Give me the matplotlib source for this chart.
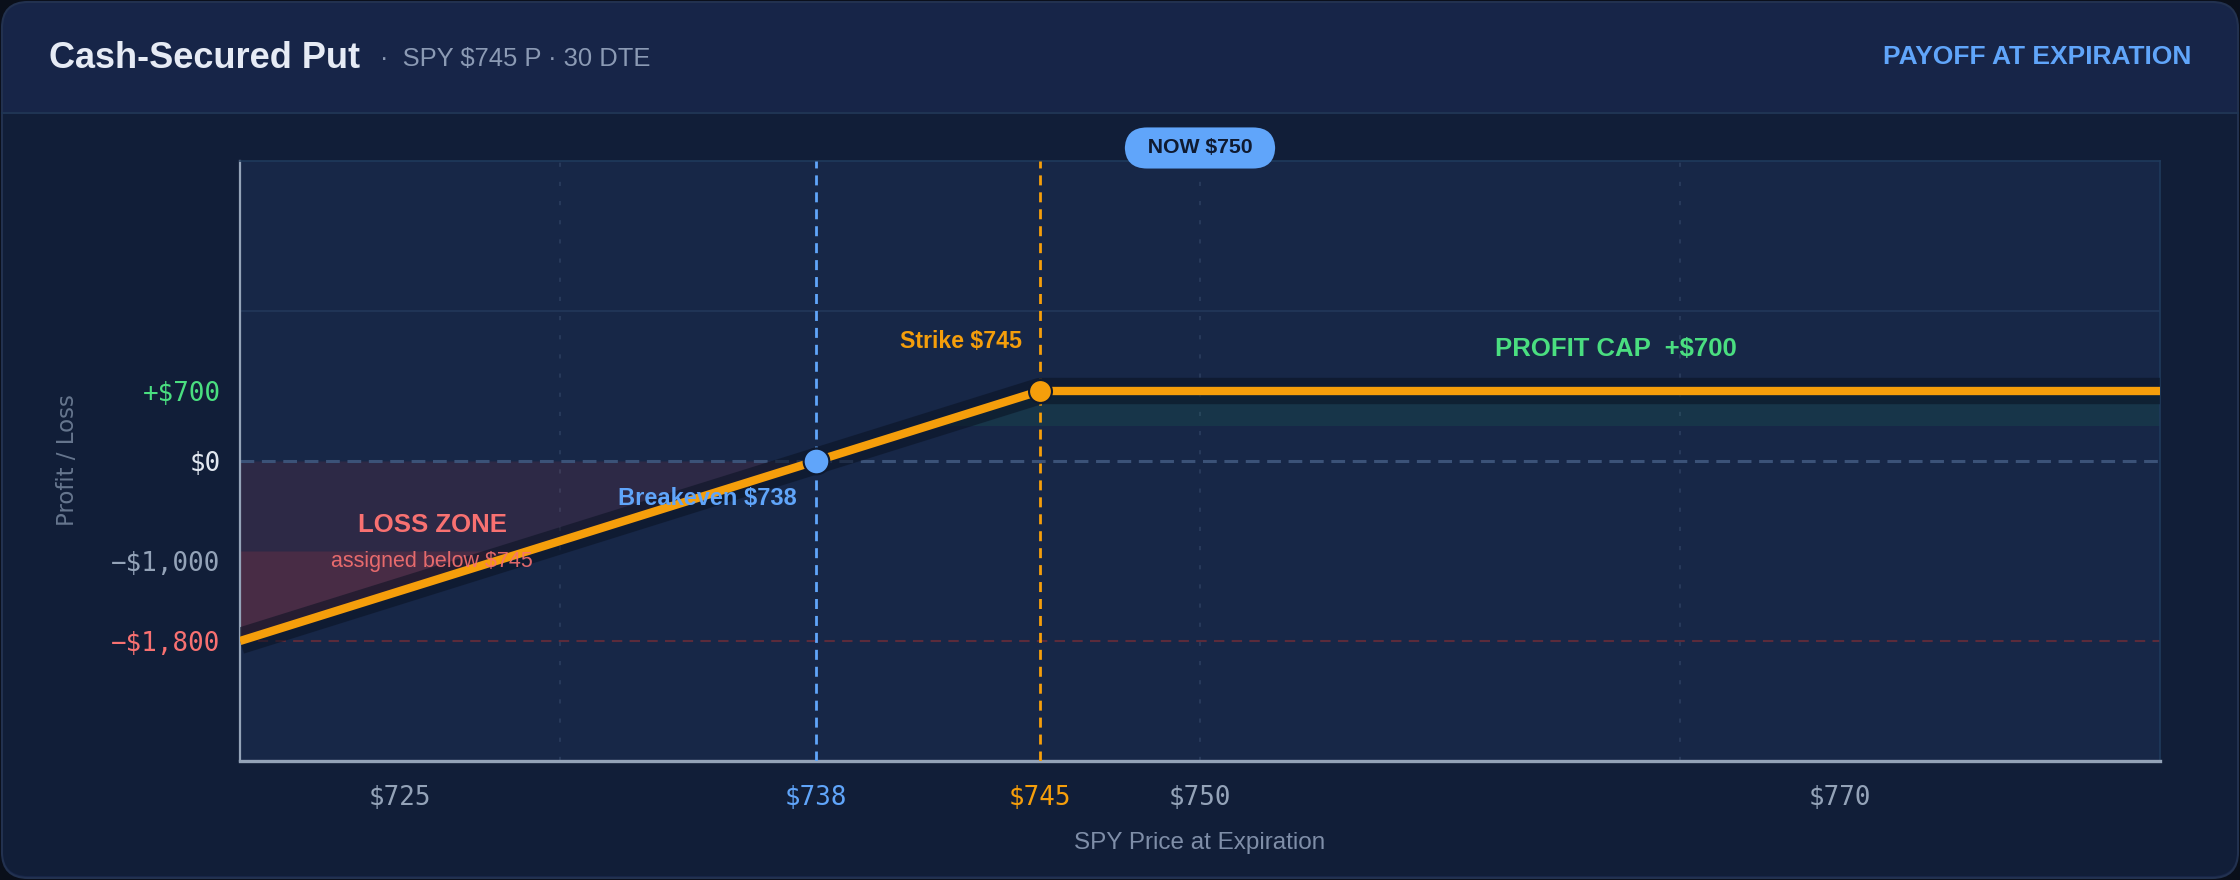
import matplotlib
matplotlib.use("Agg")
import matplotlib.pyplot as plt
import matplotlib.transforms as mtransforms
from matplotlib.patches import FancyBboxPatch, Rectangle
import numpy as np

# payoff of the short put (kink points, $ P/L per contract)
price = [720, 738, 745, 780]
pnl = [-1800, 0, 700, 700]

strike = 745
breakeven = 738
spot_now = 750
max_profit = 700
max_loss_shown = -1800

x_ticks = [725, 738, 745, 750, 770]
x_tick_labels = ['$725', '$738', '$745', '$750', '$770']
y_ticks = [-1800, -1000, 0, 700]
y_tick_labels = ['−$1,800', '−$1,000', '$0', '+$700']
grid_x = [730, 750, 765]
grid_y = [1500]

# colours
PAGE = '#0a0f1a'
HEADER = '#172548'
BODY = '#111e38'
PLOT = '#172747'
ORANGE = '#f59e0b'
BLUE = '#60a5fa'
GREEN = '#4ade80'
RED = '#f87171'
MUTED = '#94a3b8'

plt.rcParams['font.family'] = ['Liberation Sans', 'DejaVu Sans']

fig = plt.figure(figsize=(22.4, 8.8), dpi=100, facecolor=PAGE)

# card background drawn in pixel coords (origin top-left)
bg = fig.add_axes([0, 0, 1, 1], zorder=-5)
bg.set_xlim(0, 2240)
bg.set_ylim(880, 0)
bg.axis('off')
bg.add_patch(FancyBboxPatch((2, 2), 2236, 876, boxstyle='round,pad=0,rounding_size=26',
                            fc=HEADER, ec='#22314f', lw=1.5))
bg.add_patch(FancyBboxPatch((3, 113), 2234, 763, boxstyle='round,pad=0,rounding_size=25',
                            fc=BODY, ec='none'))
bg.add_patch(Rectangle((3, 113), 2234, 120, fc=BODY, ec='none'))
bg.plot([2, 2238], [113, 113], color='#1f3453', lw=1.5)

bg.text(49, 68, 'Cash-Secured Put', color='#e6ebf5', fontsize=26,
        fontweight='bold', va='baseline', ha='left')
bg.text(380, 66, '·  SPY $745 P · 30 DTE', color='#8b9ab4', fontsize=18.4,
        va='baseline', ha='left')
bg.text(2191, 64, 'PAYOFF AT EXPIRATION', color=BLUE, fontsize=19,
        fontweight='bold', va='baseline', ha='right')
bg.text(67, 460, 'Profit / Loss', color='#66768e', fontsize=16.5, rotation=90,
        ha='center', va='center', family='DejaVu Sans')
bg.text(1200, 843, 'SPY Price at Expiration', color='#7f8ea8', fontsize=17.5,
        ha='center', va='center')

# main plot
ax = fig.add_axes([240 / 2240, 119 / 880, 1920 / 2240, 600 / 880], facecolor=PLOT)
ax.set_xlim(720, 780)
ax.set_ylim(-3000, 3000)

for gx in grid_x:
    ax.axvline(gx, color='#2b3d5e', lw=1.2, ls=(0, (2.5, 9)), zorder=0.5)
for gy in grid_y:
    ax.axhline(gy, color='#22375a', lw=1.2, zorder=0.5)

# loss zone / profit zone shading
p = np.array(price)
v = np.array(pnl)
ax.fill_between(p, 0, v, where=v <= 0, interpolate=True, color='#ef4444',
                alpha=0.1, lw=0, zorder=1)
ax.fill_between(p, -900, v, where=v <= -900, interpolate=True, color='#ef4444',
                alpha=0.14, lw=0, zorder=1)
ax.fill_between(p, 350, v, where=v >= 350, interpolate=True, color='#22c55e',
                alpha=0.09, lw=0, zorder=1)

ax.axhline(0, color='#3b5278', lw=2.2, ls=(0, (4.5, 2.5)), zorder=2)
ax.axhline(max_loss_shown, color='#5b2b3b', lw=1.5, ls=(0, (5, 3.5)), zorder=2)
ax.axvline(breakeven, color=BLUE, lw=2, ls=(0, (3.6, 2.5)), zorder=3)
ax.axvline(strike, color=ORANGE, lw=2, ls=(0, (3.6, 2.5)), zorder=3)

# payoff line with dark glow
ax.plot(price, pnl, color='#0a1222', alpha=0.55, lw=19, solid_capstyle='butt', zorder=4)
ax.plot(price, pnl, color=ORANGE, lw=6, solid_capstyle='butt', zorder=5)
ax.plot([breakeven], [0], 'o', ms=18.5, mfc=BLUE, mec='#0f1a30', mew=1.5, zorder=6)
ax.plot([strike], [max_profit], 'o', ms=16.5, mfc=ORANGE, mec='#0f1a30', mew=1.5, zorder=6)

# annotations
ax.text(strike - 0.55, 1190, 'Strike $745', color=ORANGE, fontsize=16.7,
        fontweight='bold', ha='right', va='center', zorder=7)
ax.text(breakeven - 0.6, -372, 'Breakeven $738', color=BLUE, fontsize=17,
        fontweight='bold', ha='right', va='center', zorder=7)
ax.text(763.0, 1120, 'PROFIT CAP  +$700', color=GREEN, fontsize=18.5,
        fontweight='bold', ha='center', va='center', zorder=7)
ax.text(726, -643, 'LOSS ZONE', color=RED, fontsize=18.5,
        fontweight='bold', ha='center', va='center', zorder=7)
ax.text(726, -1005, 'assigned below $745', color=RED, alpha=0.9, fontsize=15.5,
        ha='center', va='center', zorder=7)

trans = mtransforms.blended_transform_factory(ax.transData, ax.transAxes)
ax.text(spot_now, 1.0217, '  NOW $750  ', transform=trans, color='#0f1a30',
        fontsize=15.3, fontweight='bold', ha='center', va='center', zorder=10,
        clip_on=False,
        bbox=dict(boxstyle='round,pad=0.52,rounding_size=1.05', fc=BLUE, ec='none'))

# ticks
ax.set_xticks(x_ticks)
ax.set_xticklabels(x_tick_labels)
ax.set_yticks(y_ticks)
ax.set_yticklabels(y_tick_labels)
ax.tick_params(length=0, labelsize=18.6)
ax.tick_params(axis='x', pad=17)
ax.tick_params(axis='y', pad=14)
x_colors = [MUTED, BLUE, ORANGE, MUTED, MUTED]
y_colors = [RED, MUTED, '#e2e8f0', GREEN]
for lbl, c in zip(ax.get_xticklabels(), x_colors):
    lbl.set_color(c)
    lbl.set_fontfamily('DejaVu Sans Mono')
for lbl, c in zip(ax.get_yticklabels(), y_colors):
    lbl.set_color(c)
    lbl.set_fontfamily('DejaVu Sans Mono')

ax.spines['left'].set_color(MUTED)
ax.spines['left'].set_linewidth(1.6)
ax.spines['bottom'].set_color(MUTED)
ax.spines['bottom'].set_linewidth(2.4)
for s in ['top', 'right']:
    ax.spines[s].set_color('#1f3a5c')
    ax.spines[s].set_linewidth(1.2)

fig.savefig('out.png', dpi=100, facecolor=PAGE)
